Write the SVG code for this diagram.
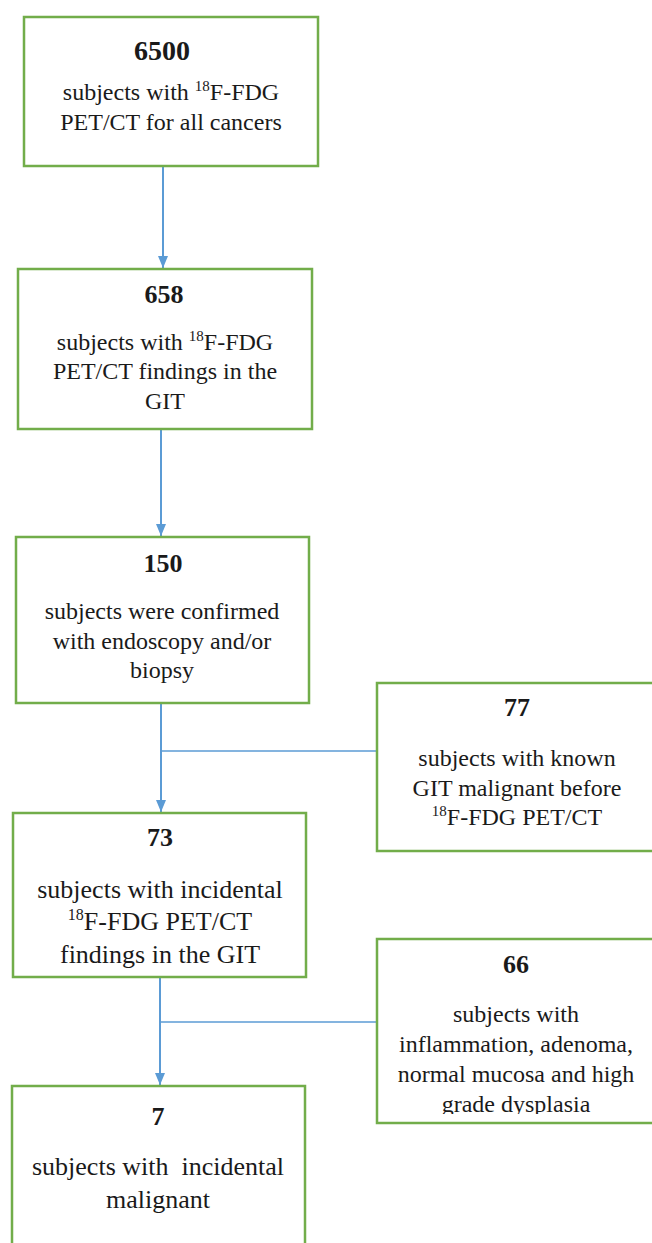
<svg xmlns="http://www.w3.org/2000/svg" width="652" height="1243" viewBox="0 0 652 1243">
<defs>
<marker id="ah" viewBox="0 0 12 10" refX="12" refY="5" markerWidth="12" markerHeight="10" markerUnits="userSpaceOnUse" orient="auto">
<path d="M0,0 L12,5 L0,10 Z" fill="#5b9bd5"/>
</marker>
</defs>
<rect width="652" height="1243" fill="#ffffff"/>

<g id="connectors" stroke="#5b9bd5" fill="none">
<line stroke-width="2" x1="163" y1="166" x2="163" y2="268" marker-end="url(#ah)"/>
<line stroke-width="2" x1="161" y1="429" x2="161" y2="536" marker-end="url(#ah)"/>
<line stroke-width="2" x1="161" y1="703" x2="161" y2="812" marker-end="url(#ah)"/>
<line stroke-width="1.6" x1="161" y1="751" x2="377" y2="751"/>
<line stroke-width="2" x1="160" y1="977" x2="160" y2="1085" marker-end="url(#ah)"/>
<line stroke-width="1.6" x1="160" y1="1022" x2="377" y2="1022"/>
</g>

<g id="n6500" font-family="Liberation Serif" text-anchor="middle" fill="#1a1a1a">
<rect x="24" y="17" width="294" height="149" fill="#ffffff" stroke="#72ad4a" stroke-width="2.5"/>
<text x="162" y="60" font-size="28" font-weight="bold">6500</text>
<text x="171" y="100" font-size="24">subjects with <tspan font-size="15" dy="-9">18</tspan><tspan dy="9">F-FDG</tspan></text>
<text x="171" y="130" font-size="24">PET/CT for all cancers</text>
</g>

<g id="n658" font-family="Liberation Serif" text-anchor="middle" fill="#1a1a1a">
<rect x="18" y="269" width="294" height="160" fill="#ffffff" stroke="#72ad4a" stroke-width="2.5"/>
<text x="164" y="303" font-size="26" font-weight="bold">658</text>
<text x="165" y="350" font-size="24">subjects with <tspan font-size="15" dy="-9">18</tspan><tspan dy="9">F-FDG</tspan></text>
<text x="165" y="379" font-size="24">PET/CT findings in the</text>
<text x="165" y="409" font-size="24">GIT</text>
</g>

<g id="n150" font-family="Liberation Serif" text-anchor="middle" fill="#1a1a1a">
<rect x="16" y="537" width="293" height="166" fill="#ffffff" stroke="#72ad4a" stroke-width="2.5"/>
<text x="163" y="572" font-size="26" font-weight="bold">150</text>
<text x="162" y="619" font-size="24">subjects were confirmed</text>
<text x="162" y="649" font-size="24">with endoscopy and/or</text>
<text x="162" y="678" font-size="24">biopsy</text>
</g>

<g id="n77" font-family="Liberation Serif" text-anchor="middle" fill="#1a1a1a">
<rect x="377" y="683" width="290" height="168" fill="#ffffff" stroke="#72ad4a" stroke-width="2.5"/>
<text x="517" y="716" font-size="26" font-weight="bold">77</text>
<text x="517" y="766" font-size="24">subjects with known</text>
<text x="517" y="796" font-size="24">GIT malignant before</text>
<text x="517" y="825" font-size="24"><tspan font-size="15" dy="-9">18</tspan><tspan dy="9">F-FDG PET/CT</tspan></text>
</g>

<g id="n73" font-family="Liberation Serif" text-anchor="middle" fill="#1a1a1a">
<rect x="13" y="813" width="293" height="164" fill="#ffffff" stroke="#72ad4a" stroke-width="2.5"/>
<text x="160" y="846" font-size="26" font-weight="bold">73</text>
<text x="160" y="898" font-size="26">subjects with incidental</text>
<text x="160" y="930" font-size="26"><tspan font-size="16" dy="-10">18</tspan><tspan dy="10">F-FDG PET/CT</tspan></text>
<text x="160" y="963" font-size="26">findings in the GIT</text>
</g>

<g id="n66" font-family="Liberation Serif" text-anchor="middle" fill="#1a1a1a">
<rect x="377" y="939" width="290" height="184" fill="#ffffff" stroke="#72ad4a" stroke-width="2.5"/>
<text x="516" y="973" font-size="26" font-weight="bold">66</text>
<text x="516" y="1022" font-size="24">subjects with</text>
<text x="516" y="1052" font-size="24">inflammation, adenoma,</text>
<text x="516" y="1082" font-size="24">normal mucosa and high</text>
<text x="516" y="1112" font-size="24">grade dysplasia</text>
<rect x="379" y="1114" width="280" height="7" fill="#ffffff"/>
</g>

<g id="n7" font-family="Liberation Serif" text-anchor="middle" fill="#1a1a1a">
<rect x="12" y="1086" width="293" height="180" fill="#ffffff" stroke="#72ad4a" stroke-width="2.5"/>
<text x="158" y="1125" font-size="26" font-weight="bold">7</text>
<text x="158" y="1175" font-size="26" xml:space="preserve">subjects with  incidental</text>
<text x="158" y="1208" font-size="26">malignant</text>
</g>
</svg>
